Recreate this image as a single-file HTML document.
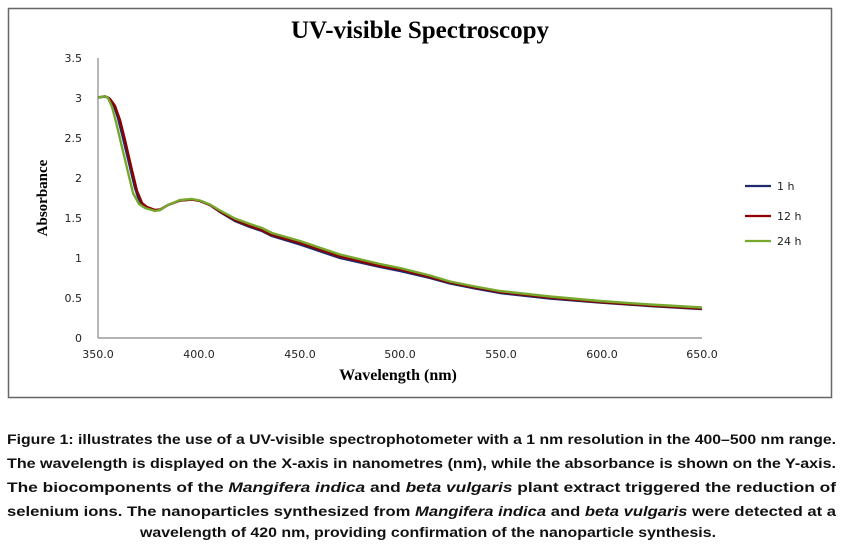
<!DOCTYPE html>
<html><head><style>
html,body{margin:0;padding:0;background:#fff;}
svg{display:block;}
</style></head><body>
<svg width="842" height="548" xmlns="http://www.w3.org/2000/svg">
<rect x="8.5" y="8.5" width="823" height="389" fill="#fff" stroke="#666" stroke-width="1.5"/>
<text x="420" y="38" text-anchor="middle" font-family="Liberation Serif, serif" font-weight="bold" font-size="25">UV-visible Spectroscopy</text>
<line x1="98" y1="58" x2="98" y2="338" stroke="#888" stroke-width="1.2"/>
<line x1="98" y1="338" x2="702" y2="338" stroke="#888" stroke-width="1.2"/>
<g font-family="DejaVu Sans, sans-serif" font-size="11" fill="#222" text-anchor="end">
<text x="82" y="62">3.5</text><text x="82" y="102">3</text><text x="82" y="142">2.5</text>
<text x="82" y="182">2</text><text x="82" y="222">1.5</text><text x="82" y="262">1</text>
<text x="82" y="302">0.5</text><text x="82" y="342">0</text>
</g>
<g font-family="DejaVu Sans, sans-serif" font-size="11" fill="#222" text-anchor="middle">
<text x="98" y="358">350.0</text><text x="199" y="358">400.0</text><text x="300" y="358">450.0</text>
<text x="400" y="358">500.0</text><text x="501" y="358">550.0</text><text x="602" y="358">600.0</text>
<text x="702" y="358">650.0</text>
</g>
<text x="398" y="380" text-anchor="middle" font-family="Liberation Serif, serif" font-weight="bold" font-size="16">Wavelength (nm)</text>
<text transform="translate(47,198) rotate(-90)" text-anchor="middle" font-family="Liberation Serif, serif" font-weight="bold" font-size="15">Absorbance</text>
<g fill="none" stroke-width="2.4" stroke-linejoin="round">
<path stroke="#1f2a6b" d="M98,97.5 L105,96.5 L109,98 L114,106 L118,118 L123,138 L129,163 L135,188 L140,203 L146,207.5 L155,210.5 L160,210 L168,205 L180,200.5 L192,199.5 L200,201 L210,205 L220,212 L235,221 L250,227 L262,231 L272,236 L300,244.5 L340,258 L380,267 L400,271 L430,278 L450,283.5 L475,288.5 L500,293 L550,298.5 L600,302.5 L650,306 L702,309"/>
<path stroke="#8b0000" d="M98,97.5 L105,96.3 L110,99 L115,106 L120,120 L125,140 L131,166 L137,191 L142,203 L147,207 L155,210 L160,209.5 L168,205 L180,200.5 L192,199.5 L200,201 L210,205 L220,211.5 L235,220 L250,226 L262,230 L272,235 L300,243 L340,256.5 L380,266 L400,269.5 L430,277 L450,282.5 L475,287.5 L500,292 L550,297.5 L600,302 L650,305.5 L702,308.5"/>
<path stroke="#77a82e" d="M98,97.5 L105,96.3 L108,98 L112,107 L116,122 L121,143 L127,168 L133,193 L139,204 L145,208 L155,211 L160,210 L168,205 L180,200 L192,199 L200,200.5 L210,204.5 L220,210.5 L235,218.5 L250,224 L262,228 L272,233 L300,241 L340,254.5 L380,264 L400,268 L430,275.5 L450,281.5 L475,286.5 L500,291 L550,296.5 L600,301 L650,304.5 L702,307.5"/>
</g>
<g stroke-width="2.2">
<line x1="745" y1="186" x2="771" y2="186" stroke="#1f2a6b"/>
<line x1="745" y1="216" x2="771" y2="216" stroke="#8b0000"/>
<line x1="745" y1="241" x2="771" y2="241" stroke="#77a82e"/>
</g>
<g font-family="DejaVu Sans, sans-serif" font-size="11" fill="#222">
<text x="777" y="190">1 h</text><text x="777" y="220">12 h</text><text x="777" y="245">24 h</text>
</g>
<g font-family="Liberation Sans, sans-serif" font-weight="bold" font-size="14" fill="#111">
<text x="7" y="444" textLength="829" lengthAdjust="spacingAndGlyphs">Figure 1: illustrates the use of a UV-visible spectrophotometer with a 1 nm resolution in the 400–500 nm range.</text>
<text x="7" y="468" textLength="829" lengthAdjust="spacingAndGlyphs">The wavelength is displayed on the X-axis in nanometres (nm), while the absorbance is shown on the Y-axis.</text>
<text x="7" y="492" textLength="829" lengthAdjust="spacingAndGlyphs">The biocomponents of the <tspan font-style="italic">Mangifera indica</tspan> and <tspan font-style="italic">beta vulgaris</tspan> plant extract triggered the reduction of</text>
<text x="7" y="516" textLength="829" lengthAdjust="spacingAndGlyphs">selenium ions. The nanoparticles synthesized from <tspan font-style="italic">Mangifera indica</tspan> and <tspan font-style="italic">beta vulgaris</tspan> were detected at a</text>
<text x="140" y="537" textLength="576" lengthAdjust="spacingAndGlyphs">wavelength of 420 nm, providing confirmation of the nanoparticle synthesis.</text>
</g>
</svg>
</body></html>
